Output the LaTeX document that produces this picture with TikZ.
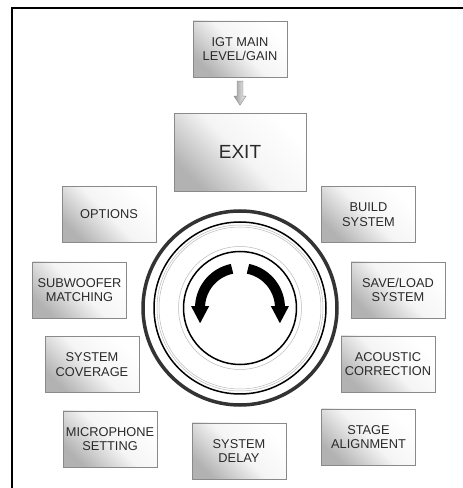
\documentclass[tikz,border=0pt]{standalone}
\usepackage{fontspec}
\setmainfont{Liberation Sans}
\usetikzlibrary{positioning,arrows.meta}
\definecolor{rahmen}{HTML}{8a8a8a}
\definecolor{schrift}{HTML}{2a2a2a}

\begin{document}
\begin{tikzpicture}[x=1pt, y=1pt,
  font=\fontsize{12.8}{14.5}\selectfont,
  knopf/.style={draw=rahmen, align=center, text=schrift, minimum width=94pt, minimum height=56pt, inner sep=1pt, top color=white, bottom color=gray!60, middle color=gray!8, shading angle=-45},
  dreh/.style={line width=10pt, -{Triangle[width=18pt, length=17pt, line width=0pt]}},
  duenn/.style={draw=gray!55, line width=0.5pt}]
\useasboundingbox (0,0) rectangle (463,488);
% ---- rahmen
\draw[line width=2.5pt] (12,0) -- (12,480) -- (463,480);
% ---- oben
\node[knopf] (igt) at (240,439) {IGT MAIN\\LEVEL/GAIN};
\node[knopf, below=36pt of igt, minimum width=132pt, minimum height=78pt, font=\fontsize{19}{21}\selectfont] (exit) {EXIT};
\draw[draw=gray!90, left color=gray!80, right color=gray!10] ([xshift=-3pt, yshift=-4pt]igt.south) -- ++(0,-15) -- ++(-3,0) -- ++(6,-9) -- ++(6,9) -- ++(-3,0) -- ++(0,15) -- cycle;
% ---- linke seite
\node[knopf] (opt) at (109,273.5) {OPTIONS};
\node[knopf] (sub) at (79.5,198) {SUBWOOFER\\MATCHING};
\node[knopf] (cov) at (92,123.5) {SYSTEM\\COVERAGE};
\node[knopf] (mic) at (110,49) {MICROPHONE\\SETTING};
\node[knopf] (del) at (239,37) {SYSTEM\\DELAY};
% ---- rechte seite
\node[knopf] (bld) at (368.5,273.5) {BUILD\\SYSTEM};
\node[knopf] (sav) at (398,198) {SAVE/LOAD\\SYSTEM};
\node[knopf] (aco) at (388,124) {ACOUSTIC\\CORRECTION};
\node[knopf] (stg) at (368.5,51) {STAGE\\ALIGNMENT};
% ---- drehknopf
\coordinate (knob) at (240,180);
\draw[line width=3.5pt, draw=black!80] (knob) circle[radius=97];
\draw[line width=1.5pt] (knob) circle[radius=86];
\draw[duenn] (knob) circle[radius=83];
\draw[duenn] (knob) circle[radius=81];
\draw[duenn] (knob) circle[radius=61.5];
\draw[line width=1.5pt] (knob) circle[radius=56.5];
\draw[dreh] ([shift={(101.5:40)}]knob) arc[start angle=101.5, end angle=176, radius=40] -- ++(0,-18);
\draw[dreh] ([shift={(78.5:40)}]knob) arc[start angle=78.5, end angle=4, radius=40] -- ++(0,-18);
\end{tikzpicture}
\end{document}
